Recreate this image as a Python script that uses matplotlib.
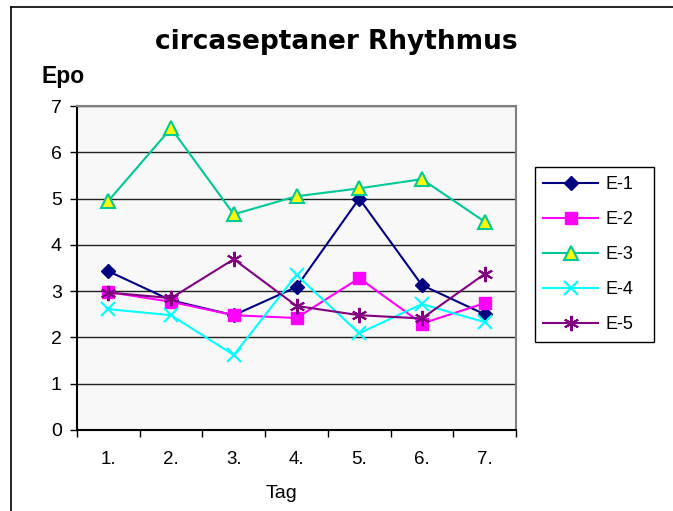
import matplotlib.pyplot as plt
from matplotlib.lines import Line2D
from matplotlib.patches import Rectangle

plt.rcParams['font.family'] = ['Liberation Sans', 'DejaVu Sans']

tage = ['1.', '2.', '3.', '4.', '5.', '6.', '7.']
e1 = [3.43, 2.8, 2.48, 3.09, 5.0, 3.13, 2.5]
e2 = [2.98, 2.77, 2.48, 2.42, 3.28, 2.3, 2.74]
e3 = [4.95, 6.52, 4.66, 5.05, 5.22, 5.42, 4.5]
e4 = [2.61, 2.48, 1.62, 3.35, 2.09, 2.72, 2.33]
e5 = [2.97, 2.85, 3.69, 2.68, 2.48, 2.41, 3.37]
namen = ['E-1', 'E-2', 'E-3', 'E-4', 'E-5']

fig = plt.figure(figsize=(6.73, 5.11), dpi=100)
W, H = 673, 511
ax = fig.add_axes([77 / W, 1 - 430 / H, (516 - 77) / W, (430 - 106) / H])
ax.set_facecolor('#f8f8f8')

x = list(range(1, 8))
ax.plot(x, e1, color='#000080', marker='D', ms=7, mfc='#000080', mec='#000080', lw=1.5, label=namen[0])
ax.plot(x, e2, color='#ff00ff', marker='s', ms=9, mfc='#ff00ff', mec='#ff00ff', lw=1.5, label=namen[1])
ax.plot(x, e3, color='#00c896', marker='^', ms=10, mfc='#ffff00', mec='#00c896', mew=1.5, lw=1.5, label=namen[2])
ax.plot(x, e4, color='#00ffff', marker='x', ms=10, mew=1.5, lw=1.5, label=namen[3])
ax.plot(x, e5, color='#800080', marker=(6, 2, 0), ms=11, mew=1.5, lw=1.5, label=namen[4])

ax.set_xlim(0.5, 7.5)
ax.set_ylim(0, 7)
ax.set_yticks(range(8))
ax.yaxis.grid(True, color='#202020', lw=1)
ax.set_axisbelow(True)
ax.set_xticks([i + 0.5 for i in range(0, 8)])
ax.set_xticklabels([])
ax.set_xticks(x, minor=True)
ax.set_xticklabels(tage, minor=True)
ax.tick_params(axis='x', which='minor', length=0, labelsize=13.5, pad=15)
ax.tick_params(axis='x', which='major', length=5, width=1, direction='out')
ax.tick_params(axis='y', length=5, width=1, direction='out', labelsize=14, pad=6)

for s in ['top', 'right']:
    ax.spines[s].set_color('#808080')
    ax.spines[s].set_linewidth(1.5)
for s in ['left', 'bottom']:
    ax.spines[s].set_color('black')
    ax.spines[s].set_linewidth(1.5)

fig.text(336 / W, 1 - 42 / H, 'circaseptaner Rhythmus', ha='center', va='center',
         fontsize=19, fontweight='bold', family=['DejaVu Sans'])
fig.text(41.5 / W, 1 - 76 / H, 'Epo', ha='left', va='center', fontsize=16.5, fontweight='bold')
fig.text(281 / W, 1 - 494 / H, 'Tag', ha='center', va='center', fontsize=14)

fig.add_artist(Rectangle((535 / W, 1 - 342 / H), (654 - 535) / W, (342 - 167) / H,
                         transform=fig.transFigure, fill=False, edgecolor='black', lw=1))
leg = ax.legend(loc='center left', bbox_to_anchor=(543 / W, 1 - 254.5 / H),
                bbox_transform=fig.transFigure, frameon=False, fontsize=13,
                handlelength=3.05, labelspacing=1.0, borderpad=0, borderaxespad=0,
                handletextpad=0.4)

fig.add_artist(Line2D([11 / W, 11 / W], [0, 1 - 7 / H], color='black', lw=1.2, transform=fig.transFigure))
fig.add_artist(Line2D([11 / W, 1], [1 - 7 / H, 1 - 7 / H], color='black', lw=1.2, transform=fig.transFigure))

fig.savefig('out.png', dpi=100)
